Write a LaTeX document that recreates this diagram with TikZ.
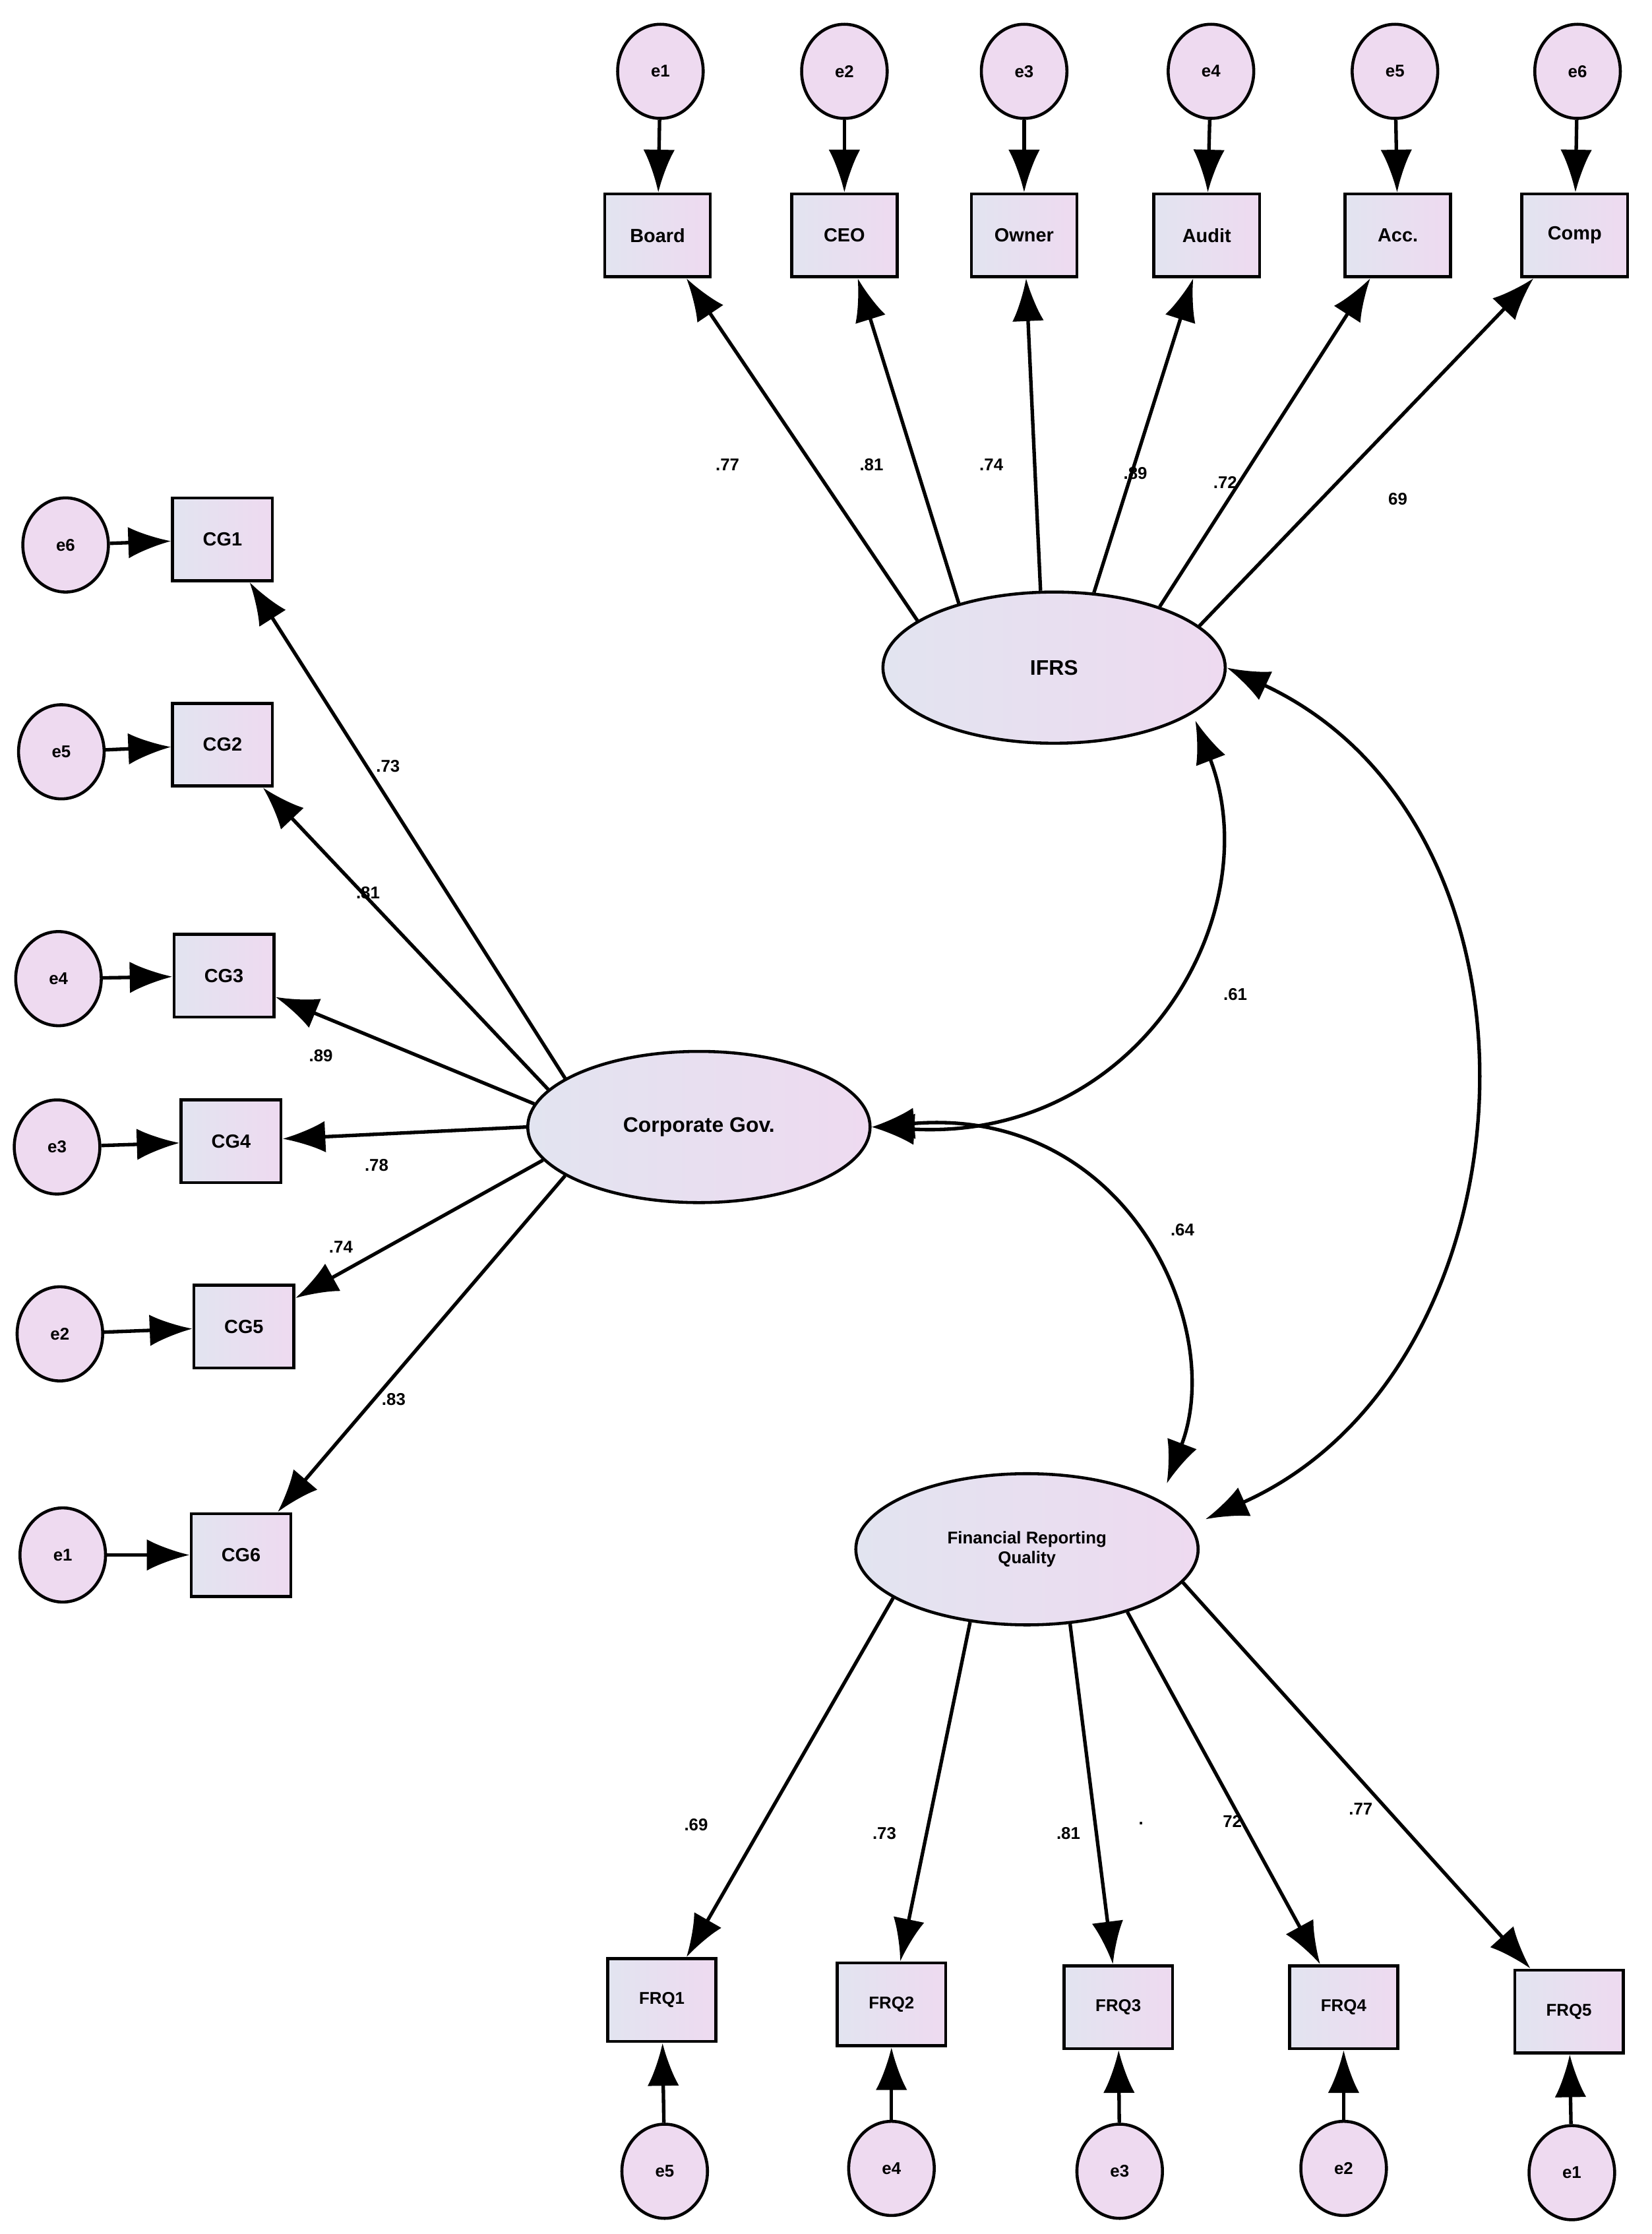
\documentclass[tikz,border=0pt]{standalone}
\usepackage{fontspec}
\setmainfont{Liberation Sans}
\usetikzlibrary{arrows.meta,shapes.geometric}
\definecolor{pk}{RGB}{238,218,240}
\definecolor{bl}{RGB}{226,228,240}
\begin{document}
\begin{tikzpicture}[x=0.05cm,y=-0.05cm,
 every node/.style={font=\bfseries\fontsize{19}{22}\selectfont},
 err/.style={ellipse,draw,line width=3pt,fill=pk,minimum width=3cm,minimum height=3.3cm,inner sep=0pt,font=\bfseries\fontsize{17}{20}\selectfont},
 obs/.style={rectangle,draw,line width=3pt,left color=bl,right color=pk,minimum width=3.7cm,minimum height=2.9cm,inner sep=0pt},
 lat/.style={ellipse,draw,line width=3pt,left color=bl,right color=pk,minimum width=12cm,minimum height=5.3cm,inner sep=0pt,font=\bfseries\fontsize{21}{25}\selectfont},
 lab/.style={font=\bfseries\fontsize{17}{20}\selectfont},
 arr/.style={line width=3.5pt,-{Latex[length=1.5cm,width=1.1cm]}},
 cov/.style={line width=3.5pt,{Latex[length=1.5cm,width=1.1cm]}-{Latex[length=1.5cm,width=1.1cm]}}]
\useasboundingbox[fill=white] (0,0) rectangle (1158,1566);
% latent
\node[lat] (ifrs) at (739,468) {IFRS};
\node[lat] (cg) at (490,790) {Corporate Gov.};
\node[lat,align=center,font=\bfseries\fontsize{17}{20}\selectfont] (frq) at (720,1086) {Financial Reporting\\Quality};
% top
\foreach \n/\t/\x/\ex in {b/Board/461/463,c/CEO/592/592,o/Owner/718/718,a/Audit/846/849,ac/Acc./980/978,cp/Comp/1104/1106}{
 \node[obs] (\n) at (\x,165) {\t};
 \node[err] (e\n) at (\ex,50) {};
}
\node[font=\bfseries\fontsize{17}{20}\selectfont] at (eb) {e1};
\node[font=\bfseries\fontsize{17}{20}\selectfont] at (ec) {e2};
\node[font=\bfseries\fontsize{17}{20}\selectfont] at (eo) {e3};
\node[font=\bfseries\fontsize{17}{20}\selectfont] at (ea) {e4};
\node[font=\bfseries\fontsize{17}{20}\selectfont] at (eac) {e5};
\node[font=\bfseries\fontsize{17}{20}\selectfont] at (ecp) {e6};
\foreach \n/\a in {b/161,c/146,o/100,a/62,ac/30,cp/16}{
 \draw[arr] (e\n) -- (\n);
 \draw[arr] (ifrs.\a) -- (\n);
}
% left
\foreach \n/\t/\x/\y/\ex/\ey/\e/\a in {g1/CG1/156/378/46/382/e6/160,g2/CG2/156/522/43/527/e5/166,g3/CG3/157/684/41/686/e4/172,g4/CG4/162/800/40/804/e3/180,g5/CG5/171/930/42/935/e2/192,g6/CG6/169/1090/44/1090/e1/200}{
 \node[obs,minimum width=3.5cm] (\n) at (\x,\y) {\t};
 \node[err] (e\n) at (\ex,\ey) {\e};
 \draw[arr] (e\n) -- (\n);
 \draw[arr] (cg.\a) -- (\n);
}
% bottom
\foreach \n/\t/\x/\y/\ex/\ey/\e/\a in {f1/FRQ1/464/1402/466/1522/e5/200,f2/FRQ2/625/1405/625/1520/e4/232,f3/FRQ3/784/1407/785/1522/e3/300,f4/FRQ4/942/1407/942/1520/e2/328,f5/FRQ5/1100/1410/1102/1523/e1/348}{
 \node[obs,minimum width=3.8cm,font=\bfseries\fontsize{17}{20}\selectfont] (\n) at (\x,\y) {\t};
 \node[err] (e\n) at (\ex,\ey) {\e};
 \draw[arr] (e\n) -- (\n);
 \draw[arr] (frq.\a) -- (\n);
}
% covariances
\draw[cov] (cg.east) .. controls (800,800) and (890,640) .. (838,505);
\draw[cov] (ifrs.east) .. controls (1100,580) and (1080,960) .. (845,1065);
\draw[cov] (cg.east) .. controls (790,775) and (860,930) .. (818,1040);
% labels
\foreach \x/\y/\t in {510/326/.77,611/326/.81,695/326/.74,796/332/.89,859/338/.72,980/350/69,
 272/537/.73,258/626/.81,225/740/.89,264/817/.78,239/874/.74,276/981/.83,
 866/697/.61,829/862/.64,488/1279/.69,620/1285/.73,749/1285/.81,800/1278/.,864/1277/72,954/1268/.77}
 \node[lab] at (\x,\y) {\t};
\end{tikzpicture}
\end{document}
